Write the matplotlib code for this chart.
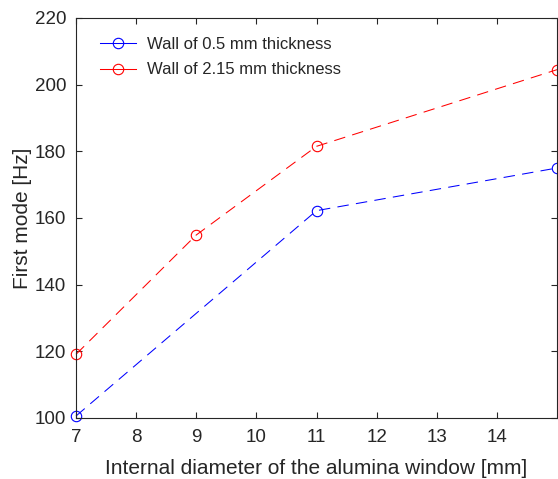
import matplotlib
matplotlib.use("Agg")
import matplotlib.pyplot as plt

# data
x_thin = [7, 11, 15]
f_thin = [100.6, 162.2, 175.0]
x_thick = [7, 9, 11, 15]
f_thick = [119.1, 154.9, 181.5, 204.5]

xticks = [7, 8, 9, 10, 11, 12, 13, 14]
yticks = [100, 120, 140, 160, 180, 200, 220]

plt.rcParams['font.family'] = ['Liberation Sans', 'DejaVu Sans']
txt = '#262626'

fig = plt.figure(figsize=(5.58, 4.79), dpi=100)
ax = fig.add_axes([76 / 558, 1 - 418 / 479, (557 - 76) / 558, (418 - 18) / 479])

dash = (0, (11, 7))
ax.plot(x_thin, f_thin, linestyle=dash, color='#0000ff', lw=0.75,
        marker='o', markersize=7.5, markerfacecolor='none', markeredgewidth=0.8,
        label='Wall of 0.5 mm thickness', clip_on=False)
ax.plot(x_thick, f_thick, linestyle=dash, color='#ff0000', lw=0.75,
        marker='o', markersize=7.5, markerfacecolor='none', markeredgewidth=0.8,
        label='Wall of 2.15 mm thickness', clip_on=False)

ax.set_xlim(7, 15)
ax.set_ylim(100, 220)
ax.set_xticks(xticks)
ax.set_yticks(yticks)
ax.tick_params(direction='in', top=True, right=True, length=4, width=0.8,
               labelsize=13.5, colors=txt)
ax.tick_params(axis='x', pad=8)
ax.tick_params(axis='y', pad=7)
for s in ax.spines.values():
    s.set_color(txt)
    s.set_linewidth(0.8)

ax.set_xlabel('Internal diameter of the alumina window [mm]', fontsize=15, color=txt, labelpad=9)
ax.set_ylabel('First mode [Hz]', fontsize=15, color=txt, labelpad=2)

leg = ax.legend(loc='upper left', frameon=False, fontsize=12, handlelength=2.15,
                handletextpad=0.65, borderaxespad=0, borderpad=0, labelspacing=0.63,
                bbox_to_anchor=(0.05, 0.9525))
for t in leg.get_texts():
    t.set_color(txt)
for ln in leg.get_lines():
    ln.set_linestyle('-')

fig.savefig('out.png', dpi=100)
